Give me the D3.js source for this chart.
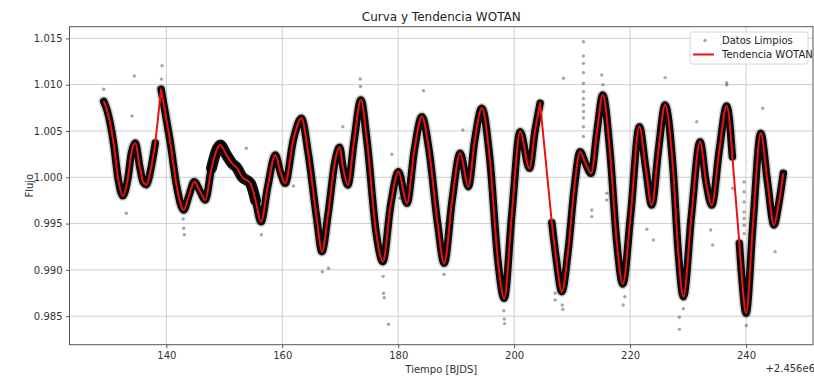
<!DOCTYPE html>
<html>
<head>
<meta charset="utf-8">
<script src="https://cdn.jsdelivr.net/npm/d3@7"></script>
<style>
  html, body { margin: 0; padding: 0; background: #ffffff; }
  svg { display: block; font-family: "DejaVu Sans", sans-serif; }
</style>
</head>
<body>
<svg id="chart" width="814" height="377"></svg>
<script>
// ---- Data ----
const title = "Curva y Tendencia WOTAN";
const xLabel = "Tiempo [BJDS]";
const yLabel = "Flujo";
const offsetText = "+2.456e6";
const xTicks = [140, 160, 180, 200, 220, 240];
const yTicks = [0.985, 0.990, 0.995, 1.000, 1.005, 1.010, 1.015];

// WOTAN trend, split into observing segments (gaps in between)
const trendSeg1 = [[129.2,1.0082],[129.8,1.0072],[130.9,1.0037],[131.7,0.9998],[132.5,0.9980],[133.4,1.0000],[134.0,1.0027],[134.66,1.0037],[135.4,1.0012],[136.0,0.9995],[136.55,0.9992],[137.3,1.0008],[138.1,1.0037]];
const trendSeg2 = [[139.1,1.0095],[139.8,1.0070],[140.7,1.0037],[141.8,0.9990],[142.98,0.99647],[143.9,0.9980],[144.83,0.99953],[145.8,0.9985],[146.72,0.99755],[147.8,1.0010],[149.3,1.00349],[150.3,1.0025],[151.33,1.00151],[152.2,1.0010],[153.05,1.00006],[154.5,0.99935],[155.4,0.9975],[156.33,0.9952],[157.5,0.9990],[158.8,1.0024],[159.7,1.0005],[160.5,0.99935],[161.9,1.0040],[163.3,1.00637],[164.5,1.0025],[165.98,0.9954],[166.84,0.99197],[167.9,0.9960],[169.14,1.00187],[169.9,1.00324],[170.5,1.0010],[171.3,0.99917],[172.4,1.0040],[173.56,1.00835],[174.6,1.0040],[176.2,0.9940],[177.35,0.99089],[178.7,0.9970],[180.05,1.0006],[181.5,0.99719],[182.8,1.0030],[184.08,1.00654],[185.3,1.0030],[186.8,0.9950],[187.93,0.99071],[189.3,0.9975],[190.69,1.00259],[192.1,0.99898],[193.2,1.0040],[194.43,1.00745],[195.8,1.0020],[197.2,0.9910],[198.28,0.98693],[199.6,0.9960],[201.03,1.00492],[202.64,1.00097],[203.6,1.0050],[204.48,1.00799]];
const trendSeg3 = [[206.5,0.9951],[207.3,0.9910],[208.22,0.98765],[209.3,0.9920],[210.4,0.9990],[211.38,1.00276],[212.3,1.0015],[213.28,1.00043],[214.3,1.0050],[215.29,1.00889],[216.5,1.0030],[217.7,0.9930],[218.74,0.98848],[220.1,0.9960],[221.6,1.00546],[222.7,1.0010],[223.74,0.9970],[224.9,1.0030],[226.03,1.00781],[227.4,1.0010],[228.3,0.9920],[229.19,0.98711],[230.6,0.9960],[232.07,1.00384],[233.1,0.9995],[234.09,0.9970],[235.4,1.0030],[236.67,1.0077],[237.64,1.00222]];
const trendSeg4 = [[238.85,0.99287],[239.3,0.9890],[240.0,0.98531],[241.2,0.9950],[242.53,1.00475],[243.7,0.9995],[244.83,0.99485],[245.6,0.9970],[246.43,1.00043]];
const trendSegments = [trendSeg1, trendSeg2, trendSeg3, trendSeg4];

// Time range where the cleaned data scatter is wider
const wideRanges = [[146.8, 155.8]];

// Isolated cleaned-data points away from the dense band
const outlierT = [134.48,134.08,139.26,153.8,133.1,161.95,173.45,178.9,167.98,177.47,177.6,178.33,184.36,191.15,188.4,170.46,180.34,
  211.95,211.95,211.95,211.95,211.95,211.95,211.95,211.95,211.95,211.95,211.95,211.95,
  208.5,215.1,213.4,213.4,226.03,236.67,236.67,242.88,231.5,224.02,222.9,234.25,233.9,
  239.66,239.66,239.66,239.66,239.66,239.66,239.66,245.0,228.5,228.5,237.7,207.07,207.07,208.4,215.98,215.98,219.1,
  143.0,143.1,198.3,198.35,218.8,229.2,240.05,177.4,187.9,156.4,166.9,
  129.2,139.15,173.5,215.3,142.9,198.2,208.3];
const outlierV = [1.01094,1.00662,1.01205,1.00313,0.99611,0.99906,1.01062,1.00248,0.99017,0.98747,0.98700,0.98413,1.00935,1.00511,0.99503,1.00546,0.99773,
  1.01464,1.01310,1.01230,1.01130,1.01015,1.00925,1.00850,1.00780,1.00710,1.00640,1.00545,1.00440,
  1.01069,1.01105,0.99647,0.99575,1.01076,1.01022,1.00997,1.00745,1.00600,0.99323,0.99438,0.99269,0.99431,
  0.99950,0.99842,0.99734,0.99626,0.99554,0.99482,0.99392,0.99197,0.98358,0.98488,0.99881,0.98675,0.98747,0.98575,0.99827,0.99755,0.98710,
  0.99450,0.99380,0.98470,0.98420,0.98620,0.98580,0.98400,0.98930,0.98950,0.99380,0.98980,
  1.00950,1.01060,1.00980,1.01000,0.99550,0.98560,0.98620];

// ---- Layout ----
const W = 814, H = 377;
const pL = 69.5, pR = 813, pT = 26.7, pB = 344.7;

const svg = d3.select("#chart");
const x = d3.scaleLinear().domain([123.3, 251.55]).range([pL, pR]);
const y = d3.scaleLinear().domain([0.98192, 1.01626]).range([pB, pT]);

svg.append("rect").attr("width", W).attr("height", H).attr("fill", "#ffffff");

// grid
const grid = svg.append("g");
grid.selectAll(".gx").data(xTicks).join("line")
  .attr("x1", d => x(d)).attr("x2", d => x(d)).attr("y1", pT).attr("y2", pB)
  .attr("stroke", "#c8c8c8").attr("stroke-width", 0.9);
grid.selectAll(".gy").data(yTicks).join("line")
  .attr("x1", pL).attr("x2", pR).attr("y1", d => y(d)).attr("y2", d => y(d))
  .attr("stroke", "#c8c8c8").attr("stroke-width", 0.9);

// clip
svg.append("clipPath").attr("id", "clip").append("rect")
  .attr("x", pL).attr("y", pT).attr("width", pR - pL).attr("height", pB - pT);
const plot = svg.append("g").attr("clip-path", "url(#clip)");

const lineGen = d3.line().x(d => x(d[0])).y(d => y(d[1])).curve(d3.curveMonotoneX);

// dense cleaned data band (Datos Limpios)
trendSegments.forEach(seg => {
  plot.append("path").attr("d", lineGen(seg)).attr("fill", "none")
    .attr("stroke", "#000").attr("stroke-opacity", 0.18).attr("stroke-width", 10.5)
    .attr("stroke-linejoin", "round").attr("stroke-linecap", "round");
  plot.append("path").attr("d", lineGen(seg)).attr("fill", "none")
    .attr("stroke", "#000").attr("stroke-opacity", 0.95).attr("stroke-width", 7.5)
    .attr("stroke-linejoin", "round").attr("stroke-linecap", "round");
});
// wider scatter range
wideRanges.forEach(r => {
  const all = trendSegments.flat().filter(d => d[0] >= r[0] && d[0] <= r[1]);
  plot.append("path").attr("d", lineGen(all)).attr("fill", "none")
    .attr("stroke", "#000").attr("stroke-opacity", 0.9).attr("stroke-width", 11)
    .attr("stroke-linejoin", "round").attr("stroke-linecap", "round");
});

// isolated points
const outliers = outlierT.map((t, i) => [t, outlierV[i]]);
plot.selectAll(".pt").data(outliers).join("circle")
  .attr("cx", d => x(d[0])).attr("cy", d => y(d[1])).attr("r", 1.7)
  .attr("fill", "#000").attr("fill-opacity", 0.35);

// trend line: curved within segments, straight across gaps
let dStr = "";
trendSegments.forEach((seg, i) => {
  const p = lineGen(seg);
  dStr += (i === 0) ? p : "L" + p.slice(1);
});
plot.append("path").attr("d", dStr).attr("fill", "none")
  .attr("stroke", "#ee1111").attr("stroke-width", 2).attr("stroke-linejoin", "round");

// axes frame
svg.append("rect").attr("x", pL).attr("y", pT).attr("width", pR - pL).attr("height", pB - pT)
  .attr("fill", "none").attr("stroke", "#555").attr("stroke-width", 1);

// axes ticks & labels
const xAxis = d3.axisBottom(x).tickValues(xTicks).tickSize(3.5).tickPadding(3.5).tickFormat(d3.format("d"));
const gx = svg.append("g").attr("transform", `translate(0,${pB})`).call(xAxis);
const yAxis = d3.axisLeft(y).tickValues(yTicks).tickSize(3.5).tickPadding(3.5).tickFormat(d3.format(".3f"));
const gy = svg.append("g").attr("transform", `translate(${pL},0)`).call(yAxis);
[gx, gy].forEach(g => {
  g.select(".domain").remove();
  g.selectAll(".tick line").attr("stroke", "#555");
  g.selectAll(".tick text").attr("fill", "#333").attr("font-size", 10).attr("font-family", "DejaVu Sans, sans-serif");
});

// texts
svg.append("text").attr("x", (pL + pR) / 2).attr("y", 21).attr("text-anchor", "middle")
  .attr("font-size", 12).attr("fill", "#222").text(title);
svg.append("text").attr("x", (pL + pR) / 2).attr("y", 373).attr("text-anchor", "middle")
  .attr("font-size", 10).attr("fill", "#333").text(xLabel);
svg.append("text").attr("transform", `translate(33,${(pT + pB) / 2}) rotate(-90)`).attr("text-anchor", "middle")
  .attr("font-size", 10).attr("fill", "#333").text(yLabel);
svg.append("text").attr("x", 815).attr("y", 372).attr("text-anchor", "end")
  .attr("font-size", 10).attr("fill", "#333").text(offsetText);

// legend
const lg = svg.append("g");
lg.append("rect").attr("x", 690).attr("y", 32).attr("width", 118).attr("height", 32).attr("rx", 2.5)
  .attr("fill", "#fff").attr("fill-opacity", 0.85).attr("stroke", "#d6d6d6").attr("stroke-width", 1);
lg.append("circle").attr("cx", 705).attr("cy", 40.5).attr("r", 1.7).attr("fill", "#000").attr("fill-opacity", 0.35);
lg.append("text").attr("x", 722).attr("y", 44).attr("font-size", 10).attr("fill", "#222").text("Datos Limpios");
lg.append("line").attr("x1", 693).attr("x2", 714).attr("y1", 54.5).attr("y2", 54.5)
  .attr("stroke", "#ee1111").attr("stroke-width", 2);
lg.append("text").attr("x", 722).attr("y", 58).attr("font-size", 10).attr("fill", "#222").text("Tendencia WOTAN");
</script>
</body>
</html>
